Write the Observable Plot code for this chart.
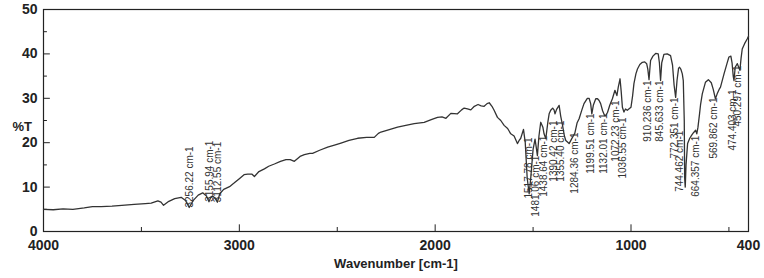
<!DOCTYPE html>
<html>
<head>
<meta charset="utf-8">
<script src="https://cdn.jsdelivr.net/npm/d3@7"></script>
<script src="https://cdn.jsdelivr.net/npm/@observablehq/plot@0.6"></script>
<style>
  html, body { margin: 0; padding: 0; background: #fff; }
  #chart { width: 764px; height: 278px; }
</style>
</head>
<body>
<div id="chart"></div>
<script>
// Spectrum trace: wavenumber (cm-1) and transmittance (%T)
const wavenumber = [
  4000, 3950, 3900, 3850, 3792, 3750, 3705, 3650, 3600, 3537, 3480, 3450, 3416, 3400, 3387, 3360, 3330, 3297, 3275, 3256,
  3235, 3210, 3187, 3168, 3155, 3145, 3136, 3124, 3112, 3100, 3080, 3050, 3027, 3000, 2976, 2957, 2935, 2923, 2900, 2872,
  2850, 2821, 2790, 2762, 2740, 2719, 2690, 2668, 2640, 2626, 2590, 2549, 2510, 2481, 2440, 2396, 2350, 2311, 2290, 2277,
  2230, 2192, 2150, 2107, 2056, 2020, 1988, 1965, 1945, 1920, 1886, 1865, 1852, 1835, 1818, 1800, 1781, 1765, 1750, 1735,
  1724, 1710, 1699, 1682, 1665, 1648, 1630, 1614, 1597, 1580, 1570, 1563, 1549, 1540, 1530, 1520, 1512, 1500, 1490, 1484,
  1478, 1470, 1461, 1450, 1444, 1435, 1425, 1418, 1410, 1400, 1393, 1388, 1380, 1367, 1359, 1350, 1340, 1333, 1316, 1299,
  1287, 1275, 1265, 1250, 1240, 1223, 1214, 1206, 1200, 1192, 1180, 1171, 1163, 1155, 1145, 1135, 1128, 1120, 1108, 1095,
  1082, 1072, 1065, 1056, 1050, 1044, 1036, 1028, 1019, 1000, 992, 985, 975, 967, 955, 942, 930, 920, 914, 908,
  903, 900, 888, 874, 861, 855, 849, 843, 832, 815, 798, 788, 780, 772, 765, 757, 752, 745, 738, 733,
  728, 726, 723, 719, 711, 700, 690, 680, 670, 664, 658, 650, 645, 636, 620, 605, 590, 580, 569, 560,
  550, 543, 525, 510, 500, 490, 484, 478, 474, 468, 457, 450, 444, 438, 432, 420, 406, 400
];
const transmittance = [
  5.0, 4.9, 5.1, 5.0, 5.3, 5.6, 5.6, 5.7, 5.9, 6.1, 6.3, 6.4, 6.9, 6.6, 5.9, 6.8, 7.4, 7.7, 7.0, 5.4,
  7.0, 8.2, 8.7, 8.0, 6.7, 7.8, 8.0, 7.5, 6.6, 8.5, 9.5, 10.1, 10.9, 11.9, 12.8, 12.9, 12.9, 12.4, 13.5, 14.1,
  14.7, 15.2, 15.8, 16.2, 16.2, 15.8, 16.9, 17.3, 17.6, 17.6, 18.3, 19.0, 19.5, 19.9, 20.5, 21.0, 21.2, 21.2, 22.1, 22.4,
  23.0, 23.5, 23.9, 24.3, 24.6, 25.2, 25.7, 25.8, 25.5, 26.6, 26.5, 27.4, 27.8, 27.6, 27.4, 28.2, 28.6, 28.3, 28.2, 28.8,
  29.0, 28.2, 27.3, 25.7, 25.0, 23.9, 23.2, 22.0, 21.5, 19.8, 20.6, 21.0, 23.0, 20.0, 12.0, 8.5, 12.0, 18.5, 20.8, 19.0,
  17.1, 21.5, 24.6, 23.5, 22.0, 20.9, 24.5, 26.5, 27.3, 27.8, 27.4, 26.5, 27.5, 28.4, 26.0, 24.0, 21.5, 20.5, 19.8, 21.2,
  22.1, 24.5, 25.4, 27.5, 28.8, 30.0, 30.0, 28.8, 26.5, 28.5, 29.9, 29.9, 29.5, 28.8, 27.2, 26.1, 26.2, 26.8, 28.5, 29.9,
  31.8, 30.6, 32.5, 34.4, 31.5, 28.0, 26.9, 27.6, 27.3, 28.0, 30.5, 33.3, 35.5, 36.6, 37.6, 38.1, 38.2, 37.8, 36.5, 34.2,
  37.0, 38.5, 39.5, 40.1, 40.0, 38.0, 34.0, 38.0, 39.9, 40.0, 39.6, 37.5, 33.0, 30.2, 34.0, 36.8, 37.0, 36.5, 35.5, 34.0,
  25.0, 12.0, 10.0, 15.0, 19.8, 21.0, 21.7, 22.3, 22.8, 22.0, 23.5, 26.5, 28.5, 31.0, 33.6, 34.2, 33.5, 32.0, 29.9, 31.0,
  32.0, 32.5, 35.5, 37.8, 39.3, 39.5, 38.0, 35.0, 34.0, 37.0, 37.8, 37.0, 36.3, 39.0, 41.1, 42.3, 43.4, 44.0
];

// Peak annotations (labels above the trace in the C-H region)
const upPeakWn = [3256.22, 3155.94, 3112.55];
const upPeakT = [5.4, 6.7, 6.6];
const upPeakText = ["3256.22 cm-1", "3155.94 cm-1", "3112.55 cm-1"];

// Peak annotations hanging below the trace in the fingerprint region
const downPeakWn = [1517.78, 1481.06, 1438.64, 1390.42, 1355.40, 1284.36, 1199.51, 1132.01, 1072.23, 1036.55,
  910.236, 845.633, 772.351, 744.462, 664.357, 569.862, 474.403, 450.297];
const downPeakT = [21.2, 17.1, 21.6, 25.0, 25.0, 22.3, 26.6, 26.6, 29.5, 25.7,
  34.0, 34.0, 30.2, 22.7, 21.6, 30.2, 32.0, 37.4];
const downPeakText = ["1517.78 cm-1", "1481.06 cm-1", "1438.64 cm-1", "1390.42 cm-1", "1355.40 cm-1", "1284.36 cm-1",
  "1199.51 cm-1", "1132.01 cm-1", "1072.23 cm-1", "1036.55 cm-1", "910.236 cm-1", "845.633 cm-1", "772.351 cm-1",
  "744.462 cm-1", "664.357 cm-1", "569.862 cm-1", "474.403 cm-1", "450.297 cm-1"];

// Axis ticks
const xLabelTicks = [4000, 3000, 2000, 1000, 400];
const xMajorTicks = [4000, 3000, 2000, 1000];
const xMinorTicks = [3500, 2500, 1500, 500];
const yMajorTicks = [0, 10, 20, 30, 40, 50];
const yMinorTicks = [5, 15, 25, 35, 45];
const xTitle = "Wavenumber [cm-1]";
const yTitle = "%T";

const trace = wavenumber.map((w, i) => ({w, t: transmittance[i]}));
const upLabels = upPeakWn.map((w, i) => ({w, t: upPeakT[i], s: upPeakText[i]}));
const downLabels = downPeakWn.map((w, i) => ({w, t: downPeakT[i], s: downPeakText[i]}));

const ink = "#222";
const chart = Plot.plot({
  width: 764,
  height: 278,
  marginLeft: 43,
  marginRight: 16,
  marginTop: 9,
  marginBottom: 47,
  style: {fontFamily: "'Liberation Sans', Arial, sans-serif", color: ink, background: "#fff"},
  x: {domain: [4000, 400], axis: null},
  y: {domain: [0, 50], axis: null},
  marks: [
    Plot.frame({stroke: ink, strokeWidth: 1.2}),
    // inward ticks
    Plot.ruleX(xMajorTicks, {x: d => d, y1: 0, y2: 1.5, stroke: ink}),
    Plot.ruleX(xMinorTicks, {x: d => d, y1: 0, y2: 0.9, stroke: ink}),
    Plot.ruleY(yMajorTicks, {y: d => d, x1: 4000, x2: 3965, stroke: ink}),
    Plot.ruleY(yMinorTicks, {y: d => d, x1: 4000, x2: 3980, stroke: ink}),
    Plot.axisX(xLabelTicks, {tickSize: 0, tickPadding: 9, tickFormat: d => String(d), fontSize: 14, fontWeight: "bold", label: null, fill: ink}),
    Plot.axisY(yMajorTicks, {tickSize: 0, tickPadding: 6, tickFormat: d => String(d), fontSize: 14, fontWeight: "bold", label: null, fill: ink}),
    Plot.text([xTitle], {frameAnchor: "bottom", dy: 36, fontSize: 13, fontWeight: "bold", fill: ink}),
    Plot.text([yTitle], {frameAnchor: "left", dx: -31, dy: 6, fontSize: 13, fontWeight: "bold", fill: ink}),
    Plot.line(trace, {x: "w", y: "t", stroke: "#333", strokeWidth: 1.3}),
    Plot.text(upLabels, {x: "w", y: "t", text: "s", rotate: -90, textAnchor: "start", dx: 1, fontSize: 10, fill: "#333"}),
    Plot.text(downLabels, {x: "w", y: "t", text: "s", rotate: -90, textAnchor: "end", dx: -1, fontSize: 10, fill: "#333"})
  ]
});
document.getElementById("chart").appendChild(chart);
</script>
</body>
</html>
